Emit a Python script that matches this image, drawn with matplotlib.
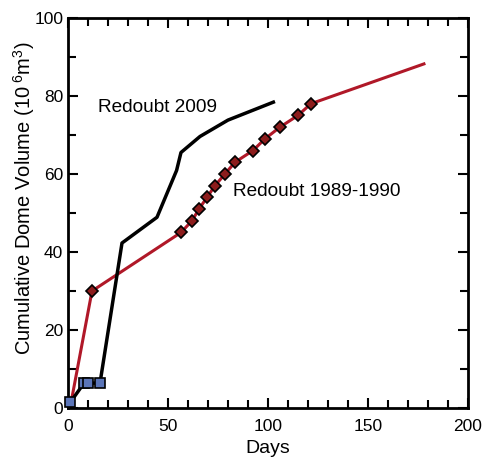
import matplotlib
matplotlib.use("Agg")
from matplotlib import pyplot as plt
from matplotlib.ticker import MultipleLocator

plt.rcParams['font.family'] = ['Liberation Sans', 'DejaVu Sans']
plt.rcParams['mathtext.fontset'] = 'custom'
plt.rcParams['mathtext.rm'] = 'Liberation Sans'
plt.rcParams['mathtext.it'] = 'Liberation Sans'

# Redoubt 1989-1990 (days, cumulative volume)
days_1989 = [1, 12, 56.5, 62, 65.5, 69.5, 73.5, 78.5, 83.5, 92.5, 98.5, 106, 115, 121.5, 178]
vol_1989 = [0, 30, 45, 48, 51, 54, 57, 60, 63, 66, 69, 72, 75, 78, 88.2]
marker_days_1989 = days_1989[1:-1]
marker_vol_1989 = vol_1989[1:-1]

# Redoubt 2009 line
days_2009 = [1.2, 8, 10, 16, 27, 44.5, 54.3, 56.5, 66, 80, 102.7]
vol_2009 = [1.5, 6.4, 6.4, 6.4, 42.3, 48.9, 60.9, 65.5, 69.6, 73.8, 78.4]
# Redoubt 2009 square markers
sq_days = [1.2, 8, 10, 16]
sq_vol = [1.5, 6.4, 6.4, 6.4]

fig = plt.figure(figsize=(4.83, 4.58), dpi=100)
ax = fig.add_axes([0.1408, 0.109, 0.828, 0.852])

ax.plot(days_1989, vol_1989, color='#b01828', lw=2.2, zorder=2)
ax.plot(marker_days_1989, marker_vol_1989, ls='none', marker='D', ms=6.5,
        mfc='#8c1c1c', mec='black', mew=1.2, zorder=4)
ax.plot(days_2009, vol_2009, color='black', lw=2.5, zorder=3)
ax.plot(sq_days, sq_vol, ls='none', marker='s', ms=7.5,
        mfc='#5b75b8', mec='black', mew=1.2, zorder=5, clip_on=False)

ax.text(15, 77, "Redoubt 2009", fontsize=13.7, ha='left', va='center')
ax.text(82.5, 55.5, "Redoubt 1989-1990", fontsize=13.7, ha='left', va='center')

ax.set_xlim(0, 200)
ax.set_ylim(0, 100)
ax.xaxis.set_major_locator(MultipleLocator(50))
ax.xaxis.set_minor_locator(MultipleLocator(10))
ax.yaxis.set_major_locator(MultipleLocator(20))
ax.yaxis.set_minor_locator(MultipleLocator(10))
ax.tick_params(which='both', direction='in', top=True, right=True,
               width=1.5, labelsize=12.5)
ax.tick_params(which='major', length=7)
ax.tick_params(which='minor', length=6)
ax.tick_params(axis='x', pad=8)
for sp in ax.spines.values():
    sp.set_linewidth(2)

ax.set_xlabel("Days", fontsize=14, labelpad=4)
ax.set_ylabel("Cumulative Dome Volume (10$^{\\ 6}$m$^{3}$)", fontsize=14.5)
ax.yaxis.set_label_coords(-0.078, 0.538)

fig.savefig("out.png", dpi=100)
